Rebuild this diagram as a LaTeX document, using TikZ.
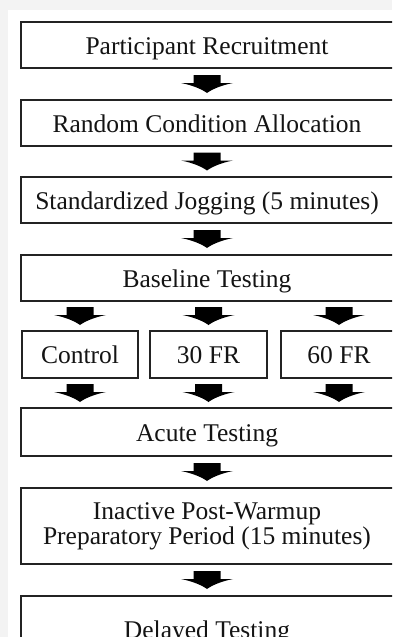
\documentclass[tikz,border=0pt]{standalone}
\usepackage{fontspec}
\setmainfont{Liberation Serif}
\usetikzlibrary{calc}

\definecolor{pagegray}{RGB}{243,243,243}
\definecolor{inkline}{RGB}{35,35,35}
\definecolor{inktext}{RGB}{20,20,20}

\tikzset{
  box/.style={draw=inkline, line width=1.1pt, fill=white, inner sep=0pt,
    text=inktext, font=\fontsize{25.5}{25}\selectfont},
  onerow/.style={box, text height=18pt, text depth=0pt},
  wide/.style={minimum width=380pt},
  caption/.style={text=inktext, inner sep=0pt, font=\fontsize{25.5}{25}\selectfont},
  onecap/.style={caption, text height=18pt, text depth=0pt},
  flowhead/.style={fill=black},
}

% Fat downward block arrow centred on the given point
\newcommand\flowarrow[1]{%
  \begin{scope}[shift={#1}]
    \fill[flowhead] (-13.5,-9) -- (13.5,-9) -- (13.5,-1) -- (26,-1)
      .. controls (13,1.5) and (4,6) .. (0,9)
      .. controls (-4,6) and (-13,1.5) .. (-26,-1)
      -- (-13.5,-1) -- cycle;
  \end{scope}}

\begin{document}
\begin{tikzpicture}[x=1pt, y=-1pt]
  \useasboundingbox (0,0) rectangle (392,637);
  \clip (0,0) rectangle (392,637);
  \fill[pagegray] (0,0) rectangle (392,637);
  \fill[white] (7.5,9.5) rectangle (400,645);

  % the flow runs down this vertical axis
  \coordinate (axis) at (207,0);

  % main sequence (boxes run on past the right edge)
  \node[onerow, wide, minimum height=46pt] (recruit) at (211,45) {};
  \node[onerow, wide, minimum height=46pt] (alloc) at (211,123) {};
  \node[onerow, wide, minimum height=46pt] (jog) at (211,200) {};
  \node[onerow, wide, minimum height=46pt] (base) at (211,278) {};
  \node[onerow, wide, minimum height=48pt] (acute) at (211,432) {};
  \node[box, wide, minimum height=76pt] (rest) at (211,526) {};
  \node[onerow, wide, minimum height=67pt] (delay) at (211,629.5) {};

  % box labels, centred on the flow axis
  \node[onecap] (recruit-t) at (recruit.center -| axis) {Participant Recruitment};
  \node[onecap] (alloc-t) at (alloc.center -| axis) {Random Condition Allocation};
  \node[onecap] (jog-t) at (jog.center -| axis) {Standardized Jogging (5 minutes)};
  \node[onecap] (base-t) at (base.center -| axis) {Baseline Testing};
  \node[onecap] (acute-t) at (acute.center -| axis) {Acute Testing};
  \node[caption, align=center] (rest-t) at (rest.center -| axis)
    {Inactive Post-Warmup\\Preparatory Period (15 minutes)};
  \node[onecap] (delay-t) at (delay.center -| axis) {Delayed Testing};

  % the three conditions
  \node[onerow, minimum width=116pt, minimum height=47pt] (ctrl) at (80,354.5) {Control};
  \node[onerow, minimum width=117pt, minimum height=47pt] (fr30) at (208.5,354.5) {30 FR};
  \node[onerow, minimum width=116pt, minimum height=47pt] (fr60) at (339,354.5) {60 FR};

  % connectors
  \flowarrow{($(recruit.south -| axis)!0.5!(alloc.north -| axis)$)}
  \flowarrow{($(alloc.south -| axis)!0.5!(jog.north -| axis)$)}
  \flowarrow{($(jog.south -| axis)!0.5!(base.north -| axis)$)}
  \flowarrow{($(base.south -| ctrl.north)!0.5!(ctrl.north)$)}
  \flowarrow{($(base.south -| fr30.north)!0.5!(fr30.north)$)}
  \flowarrow{($(base.south -| fr60.north)!0.5!(fr60.north)$)}
  \flowarrow{($(ctrl.south)!0.5!(acute.north -| ctrl.south)$)}
  \flowarrow{($(fr30.south)!0.5!(acute.north -| fr30.south)$)}
  \flowarrow{($(fr60.south)!0.5!(acute.north -| fr60.south)$)}
  \flowarrow{($(acute.south -| axis)!0.5!(rest.north -| axis)$)}
  \flowarrow{($(rest.south -| axis)!0.5!(delay.north -| axis)$)}
\end{tikzpicture}
\end{document}
